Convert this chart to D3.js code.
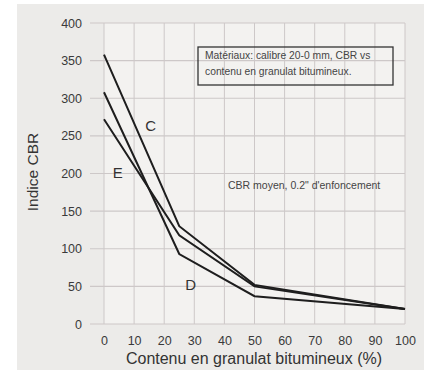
<!DOCTYPE html>
<html>
<head>
<meta charset="utf-8">
<script src="https://cdn.jsdelivr.net/npm/d3@7"></script>
<style>
  body { margin: 0; background: #fff; }
  svg { display: block; font-family: "Liberation Sans", Arial, sans-serif; }
</style>
</head>
<body>
<div id="chart"></div>
<script>
const contenu = [0, 25, 50, 100];
const courbeC = [358, 130, 52, 20];
const courbeE = [272, 118, 50, 20];
const courbeD = [308, 93, 37, 20];
const xTicks = [0, 10, 20, 30, 40, 50, 60, 70, 80, 90, 100];
const yTicks = [0, 50, 100, 150, 200, 250, 300, 350, 400];
const labels = [
  { name: "C", x: 15.5, y: 262 },
  { name: "E", x: 4.6, y: 199 },
  { name: "D", x: 28.8, y: 50 }
];

const W = 424, H = 370;
const margin = { top: 23, right: 19, bottom: 46, left: 104 };
const width = W - margin.left - margin.right;
const height = H - margin.top - margin.bottom;

const svg = d3.select("#chart").append("svg")
  .attr("width", W).attr("height", H);

// fond gris du scan
svg.append("rect").attr("x", 17).attr("y", 4)
  .attr("width", W - 17).attr("height", H - 4)
  .attr("fill", "#ecebe9");

const g = svg.append("g")
  .attr("transform", `translate(${margin.left}, ${margin.top})`);

const x = d3.scaleLinear().domain([0, 100]).range([0, width]);
const y = d3.scaleLinear().domain([0, 400]).range([height, 0]);

g.append("rect").attr("width", width).attr("height", height)
  .attr("fill", "#f3f2f0");

// grille
g.append("g").selectAll("line").data(xTicks).join("line")
  .attr("x1", d => x(d)).attr("x2", d => x(d))
  .attr("y1", 0).attr("y2", height)
  .attr("stroke", "#cdc8c8").attr("stroke-width", 1);
g.append("g").selectAll("line").data(yTicks).join("line")
  .attr("x1", -14).attr("x2", width)
  .attr("y1", d => y(d)).attr("y2", d => y(d))
  .attr("stroke", "#cdc8c8").attr("stroke-width", 1.2);

// axes
const xAxis = g.append("g")
  .attr("transform", `translate(0, ${height})`)
  .call(d3.axisBottom(x).tickValues(xTicks).tickSize(0).tickPadding(12));
const yAxis = g.append("g")
  .call(d3.axisLeft(y).tickValues(yTicks).tickSize(0).tickPadding(22));
[xAxis, yAxis].forEach(a => {
  a.select(".domain").remove();
  a.selectAll("text").attr("fill", "#3a3a3a").style("font-size", "12.5px");
});

// courbes
const line = d3.line().x(d => x(d[0])).y(d => y(d[1]));
[courbeC, courbeE, courbeD].forEach(serie => {
  g.append("path")
    .datum(contenu.map((c, i) => [c, serie[i]]))
    .attr("d", line)
    .attr("fill", "none")
    .attr("stroke", "#1e1e1e")
    .attr("stroke-width", 2);
});

g.selectAll("text.lbl").data(labels).join("text")
  .attr("class", "lbl")
  .attr("x", d => x(d.x)).attr("y", d => y(d.y))
  .attr("text-anchor", "middle").attr("dominant-baseline", "middle")
  .attr("fill", "#333").style("font-size", "15px")
  .text(d => d.name);

// encadré
svg.append("rect").attr("x", 198).attr("y", 47)
  .attr("width", 195).attr("height", 38)
  .attr("fill", "none").attr("stroke", "#333").attr("stroke-width", 1.3);
svg.append("text").attr("x", 205).attr("y", 59)
  .attr("fill", "#444").style("font-size", "10.3px")
  .text("Matériaux: calibre 20-0 mm, CBR vs");
svg.append("text").attr("x", 205).attr("y", 75)
  .attr("fill", "#444").style("font-size", "10.3px")
  .text("contenu en granulat bitumineux.");

svg.append("text").attr("x", 228).attr("y", 189)
  .attr("fill", "#444").style("font-size", "10.5px")
  .text("CBR moyen, 0.2\" d'enfoncement");

// titres des axes
svg.append("text").attr("x", 254).attr("y", 364)
  .attr("text-anchor", "middle").attr("fill", "#333")
  .style("font-size", "16px")
  .text("Contenu en granulat bitumineux (%)");
svg.append("text")
  .attr("transform", "translate(38, 172) rotate(-90)")
  .attr("text-anchor", "middle").attr("fill", "#333")
  .style("font-size", "15.5px")
  .text("Indice CBR");
</script>
</body>
</html>
